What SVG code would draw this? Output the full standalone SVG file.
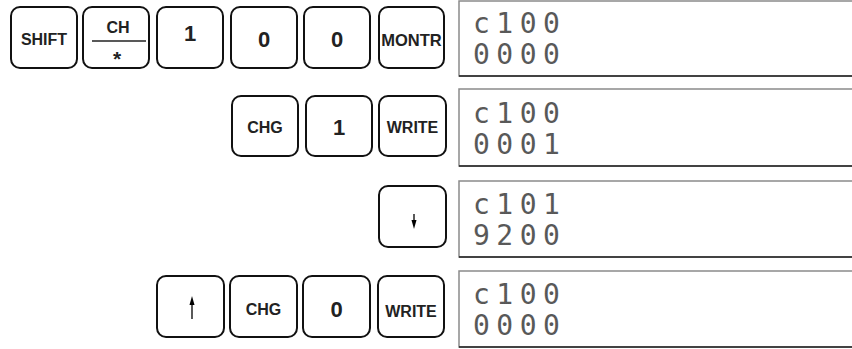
<svg xmlns="http://www.w3.org/2000/svg" width="852" height="349" viewBox="0 0 852 349">
<defs>
<pattern id="dots" width="2" height="2" patternUnits="userSpaceOnUse">
<circle cx="1" cy="1" r="0.95" fill="#111"/>
</pattern>
</defs>
<style>
.key{fill:#fff;stroke:#111;stroke-width:2;}
.kt{font-family:"Liberation Sans",Arial,sans-serif;font-weight:bold;font-size:16px;fill:#222;text-anchor:middle;}
.kd{font-family:"Liberation Sans",Arial,sans-serif;font-weight:bold;font-size:22px;fill:#222;text-anchor:middle;}
.disp{fill:#fff;stroke:#8a8a8a;stroke-width:1.5;}
.dbot{stroke:#222;stroke-width:1.5;}
.dt{font-family:"DejaVu Sans Mono","Liberation Mono",monospace;font-size:28px;letter-spacing:6.5px;fill:url(#dots);}
.arr{stroke:#000;stroke-width:1.3;fill:none;}
.ah{fill:#000;}
</style>

<g id="row1">
<g id="k-shift"><rect class="key" x="11" y="7" width="66" height="61" rx="9"/><text class="kt" x="44" y="45">SHIFT</text></g>
<g id="k-ch"><rect class="key" x="83" y="7" width="66" height="61" rx="9"/><text class="kt" x="118" y="33">CH</text><line x1="92" y1="41" x2="146" y2="41" stroke="#222" stroke-width="1.5"/><text class="kt" x="117" y="66" style="font-size:21px">*</text></g>
<g id="k-1a"><rect class="key" x="157" y="7" width="66" height="61" rx="9"/><text class="kd" x="190" y="41">1</text></g>
<g id="k-0a"><rect class="key" x="231" y="7" width="66" height="61" rx="9"/><text class="kd" x="264" y="47">0</text></g>
<g id="k-0b"><rect class="key" x="304" y="7" width="66" height="61" rx="9"/><text class="kd" x="337" y="47">0</text></g>
<g id="k-montr"><rect class="key" x="379" y="7" width="65" height="61" rx="9"/><text class="kt" x="411.5" y="46" style="font-size:16.5px">MONTR</text></g>
</g>

<g id="row2">
<g id="k-chg1"><rect class="key" x="232" y="96" width="66" height="60" rx="9"/><text class="kt" x="265" y="133">CHG</text></g>
<g id="k-1b"><rect class="key" x="306" y="96" width="66" height="60" rx="9"/><text class="kd" x="339" y="135">1</text></g>
<g id="k-write1"><rect class="key" x="379" y="96" width="67" height="60" rx="9"/><text class="kt" x="412.5" y="133">WRITE</text></g>
</g>

<g id="row3">
<g id="k-down"><rect class="key" x="379" y="186" width="67" height="61" rx="9"/></g>
</g>

<g id="row4">
<g id="k-up"><rect class="key" x="157" y="276" width="67" height="61" rx="9"/></g>
<g id="k-chg2"><rect class="key" x="230" y="276" width="67" height="61" rx="9"/><text class="kt" x="263.5" y="315">CHG</text></g>
<g id="k-0c"><rect class="key" x="303" y="276" width="67" height="61" rx="9"/><text class="kd" x="336.5" y="317">0</text></g>
<g id="k-write2"><rect class="key" x="378" y="276" width="66" height="61" rx="9"/><text class="kt" x="411" y="317">WRITE</text></g>
</g>

<g id="connectors">
<line class="arr" x1="414" y1="214" x2="414" y2="222"/>
<polygon class="ah" points="411.5,220 416.5,220 414,229"/>
<line class="arr" x1="192" y1="319" x2="192" y2="303"/>
<polygon class="ah" points="189.5,305 194.5,305 192,296"/>
</g>

<g id="disp1"><rect class="disp" x="459" y="1" width="400" height="75"/><line class="dbot" x1="459" y1="76" x2="852" y2="76"/><text class="dt" x="473" y="33">c100<tspan x="473" y="64">0000</tspan></text></g>
<g id="disp2"><rect class="disp" x="459" y="89" width="400" height="77"/><line class="dbot" x1="459" y1="166" x2="852" y2="166"/><text class="dt" x="473" y="123">c100<tspan x="473" y="154">0001</tspan></text></g>
<g id="disp3"><rect class="disp" x="459" y="181" width="400" height="76"/><line class="dbot" x1="459" y1="257" x2="852" y2="257"/><text class="dt" x="473" y="214">c101<tspan x="473" y="245">9200</tspan></text></g>
<g id="disp4"><rect class="disp" x="459" y="271" width="400" height="76"/><line class="dbot" x1="459" y1="347" x2="852" y2="347"/><text class="dt" x="473" y="304">c100<tspan x="473" y="335">0000</tspan></text></g>
</svg>
